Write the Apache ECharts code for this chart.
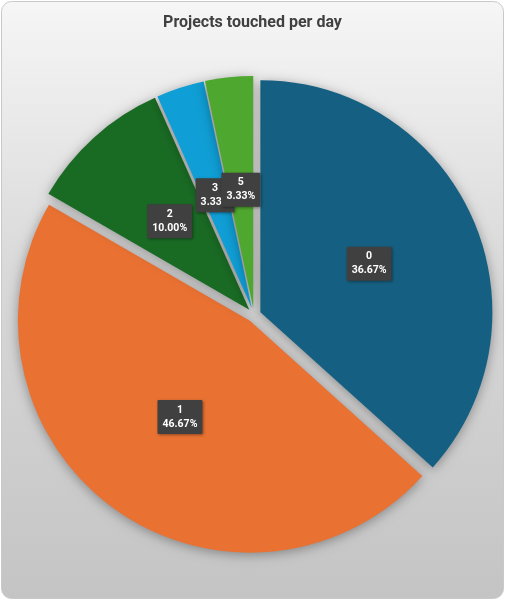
<!DOCTYPE html>
<html>
<head>
<meta charset="utf-8">
<script src="https://cdn.jsdelivr.net/npm/echarts@6/dist/echarts.min.js"></script>
<style>
  html, body { margin: 0; padding: 0; background: #fff; }
  #chart { width: 505px; height: 600px; }
</style>
</head>
<body>
<div id="chart"></div>
<script>
const categories = ['0', '1', '2', '3', '5']
const counts = [11, 14, 3, 1, 1]
const sliceColors = ['#156082', '#E97132', '#196B24', '#0F9ED5', '#4EA72E']

const total = counts.reduce((a, b) => a + b, 0)

const chart = echarts.init(document.getElementById('chart'))

chart.setOption({
  animation: false,
  graphic: [
    {
      type: 'rect',
      z: -10,
      silent: true,
      shape: { x: 1.5, y: 1.5, width: 502, height: 597, r: 10 },
      style: {
        fill: new echarts.graphic.LinearGradient(0, 0, 0, 1, [
          { offset: 0, color: '#f6f6f6' },
          { offset: 0.45, color: '#d9d9d9' },
          { offset: 1, color: '#c4c4c4' }
        ]),
        stroke: '#c9c9c9',
        lineWidth: 1
      }
    }
  ],
  title: {
    text: 'Projects touched per day',
    left: 'center',
    top: 10,
    textStyle: {
      fontFamily: 'Roboto',
      fontSize: 16,
      fontWeight: 'bold',
      color: '#404040'
    }
  },
  series: [
    {
      type: 'pie',
      center: [254, 315],
      radius: 232,
      startAngle: 90,
      clockwise: true,
      selectedMode: 'multiple',
      selectedOffset: 7,
      avoidLabelOverlap: false,
      labelLayout: { hideOverlap: false },
      emphasis: { disabled: true },
      itemStyle: {
        shadowBlur: 12,
        shadowColor: 'rgba(0,0,0,0.35)',
        shadowOffsetY: 2
      },
      label: {
        show: true,
        position: 'inside',
        fontFamily: 'Roboto',
        fontSize: 10.5,
        fontWeight: 'bold',
        lineHeight: 14,
        color: '#ffffff',
        backgroundColor: '#404040',
        padding: [3, 5],
        borderRadius: 1,
        shadowBlur: 3,
        shadowColor: 'rgba(0,0,0,0.4)',
        shadowOffsetX: 1,
        shadowOffsetY: 1,
        formatter: p => p.name + '\n' + (p.value / total * 100).toFixed(2) + '%'
      },
      labelLine: { show: false },
      data: categories.map((c, i) => ({
        name: c,
        value: counts[i],
        selected: true,
        itemStyle: { color: sliceColors[i] }
      }))
    }
  ]
})
</script>
</body>
</html>
